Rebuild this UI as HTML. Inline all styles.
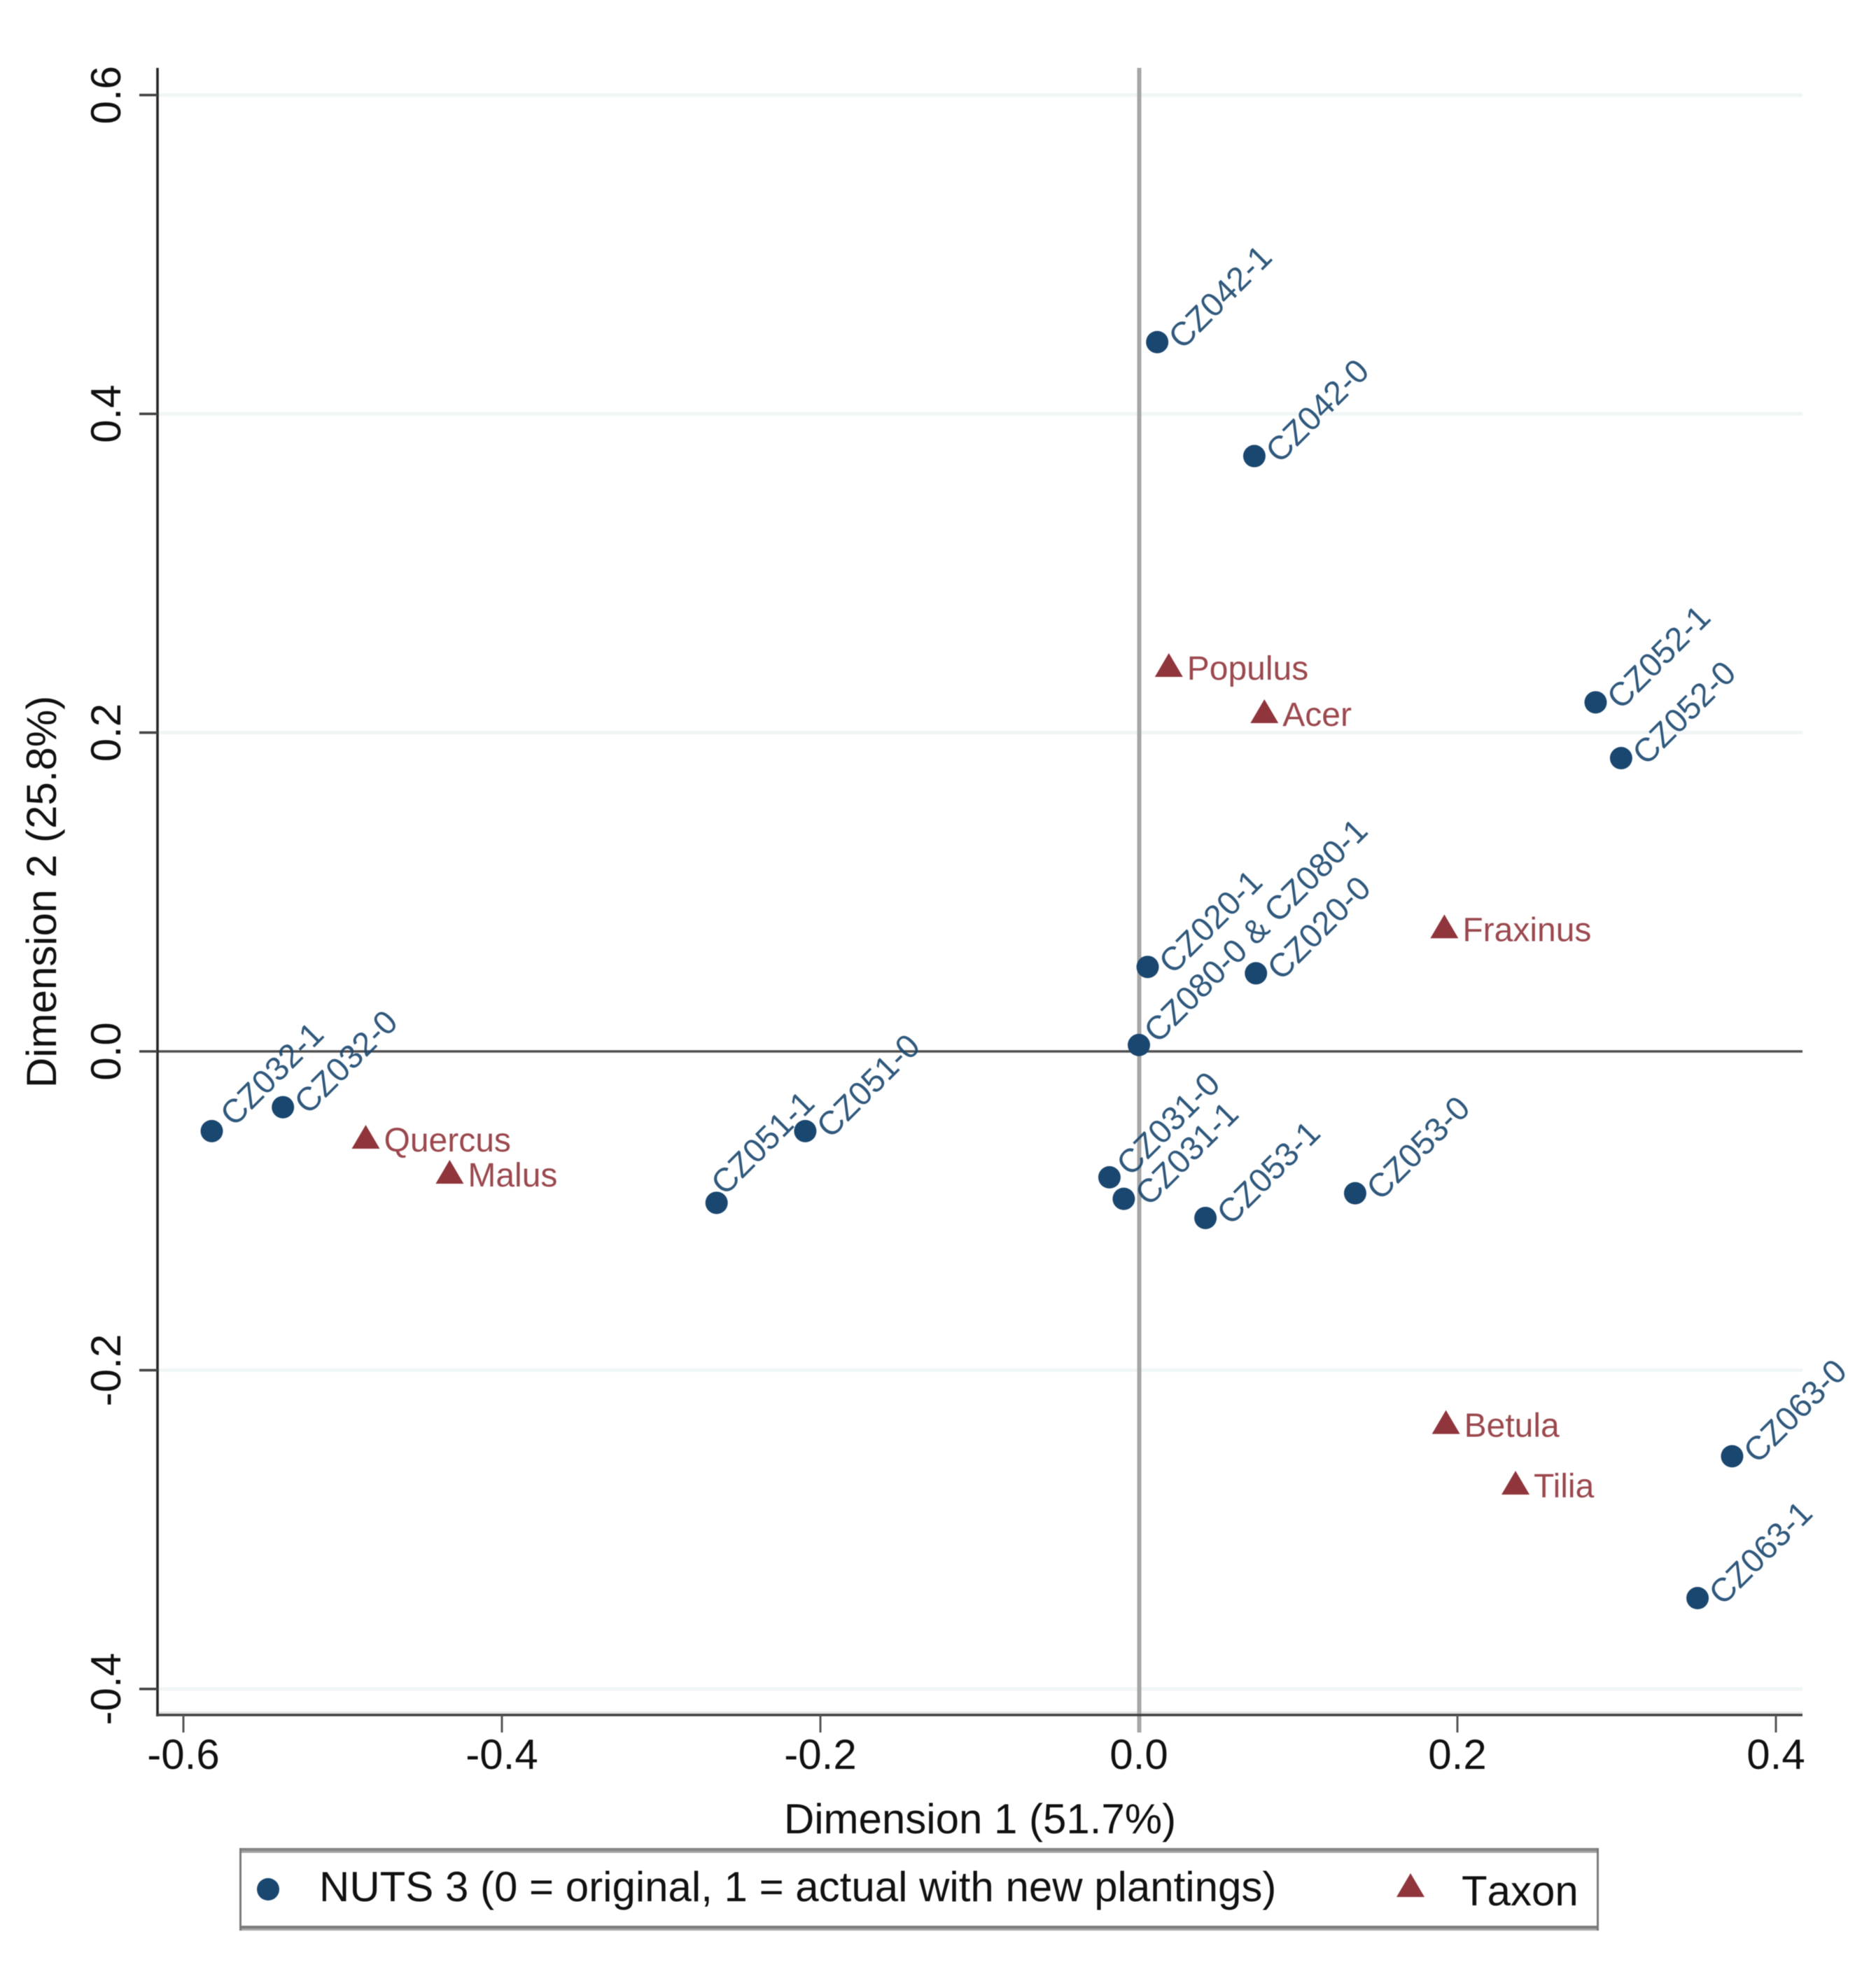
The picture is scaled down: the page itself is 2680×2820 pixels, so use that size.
<!DOCTYPE html>
<html lang="en">
<head>
<meta charset="utf-8">
<title>Correspondence analysis biplot</title>
<style>
html,body{margin:0;padding:0;background:#fff;}
svg{display:block;font-family:"Liberation Sans",Arial,sans-serif;filter:blur(0.6px);}
</style>
</head>
<body>
<svg id="chart" xmlns="http://www.w3.org/2000/svg" width="2680" height="2820" viewBox="0 0 2680 2820"></svg>
<script>
const xTicks = [-0.6, -0.4, -0.2, 0.0, 0.2, 0.4];
const yTicks = [0.6, 0.4, 0.2, 0.0, -0.2, -0.4];
const xTickLabels = ['-0.6', '-0.4', '-0.2', '0.0', '0.2', '0.4'];
const yTickLabels = ['0.6', '0.4', '0.2', '0.0', '-0.2', '-0.4'];

const regionNames = ['CZ042-1','CZ042-0','CZ052-1','CZ052-0','CZ020-1','CZ020-0','CZ080-0 & CZ080-1','CZ032-1','CZ032-0','CZ051-1','CZ051-0','CZ031-0','CZ031-1','CZ053-1','CZ053-0','CZ063-0','CZ063-1'];
const regionDim1 = [0.0115, 0.0725, 0.2868, 0.3028, 0.0055, 0.0735, 0.0, -0.5822, -0.5375, -0.2652, -0.2095, -0.0185, -0.0095, 0.0418, 0.1358, 0.3725, 0.3508];
const regionDim2 = [0.445, 0.3735, 0.219, 0.184, 0.053, 0.049, 0.004, -0.050, -0.035, -0.095, -0.050, -0.079, -0.0925, -0.1045, -0.089, -0.254, -0.343];

const taxonNames = ['Populus','Acer','Fraxinus','Quercus','Malus','Betula','Tilia'];
const taxonDim1 = [0.0188, 0.0788, 0.1918, -0.4855, -0.4328, 0.1928, 0.2365];
const taxonDim2 = [0.242, 0.213, 0.078, -0.054, -0.076, -0.233, -0.271];

const NAVY = '#1a476f';
const MAROON = '#90353b';
const svg = document.getElementById('chart');
const NS = 'http://www.w3.org/2000/svg';

function scaleX(v) { return 1627 + v * 2275; }
function scaleY(v) { return 1502 - v * 2277; }

function make(tag, attrs, text) {
  const el = document.createElementNS(NS, tag);
  for (const k in attrs) el.setAttribute(k, attrs[k]);
  if (text !== undefined) el.textContent = text;
  svg.appendChild(el);
  return el;
}
function trianglePoints(cx, cy) {
  return (cx - 20) + ',' + (cy + 16) + ' ' + (cx + 20) + ',' + (cy + 16) + ' ' + cx + ',' + (cy - 18);
}
/* most region labels sit right of the marker; a few were nudged upward in the source chart */
function regionLabelDx(name) {
  if (name === 'CZ051-1') return 12;
  if (name === 'CZ031-0') return 30;
  if (name === 'CZ032-1') return 32;
  if (name === 'CZ080-0 & CZ080-1') return 27;
  return 36;
}
function regionLabelDy(name) {
  if (name === 'CZ051-1') return -9;
  if (name === 'CZ031-0') return 0;
  if (name === 'CZ032-1') return -5;
  if (name === 'CZ080-0 & CZ080-1') return -1;
  return 12;
}

let el;

/* gridlines */
yTicks.forEach(function (t) {
  if (t === 0) return;
  el = make('rect', { x: 225, y: scaleY(t) - 2.5, width: 2350, height: 5, fill: '#f0f5f5' });
  
  
});

/* plot bottom shadow band */
el = make('rect', { x: 225, y: 2445, width: 2350, height: 4, fill: '#e4e4e4' });



/* reference lines */
el = make('line', { x1: scaleX(0) + 0.5, x2: scaleX(0) + 0.5, y1: 97, y2: 2475, stroke: '#a6a6a6', 'stroke-width': 6 });



el = make('line', { x1: 225, x2: 2575, y1: scaleY(0), y2: scaleY(0), stroke: '#505050', 'stroke-width': 3.4 });



/* axes */
el = make('line', { x1: 225, x2: 225, y1: 97, y2: 2452, stroke: '#262626', 'stroke-width': 3.6 });



el = make('line', { x1: 223, x2: 2575, y1: 2450, y2: 2450, stroke: '#404040', 'stroke-width': 3.6 });



/* x ticks */
xTicks.forEach(function (t, i) {
  if (t !== 0) {
    el = make('line', { x1: scaleX(t), x2: scaleX(t), y1: 2450, y2: 2475, stroke: '#555', 'stroke-width': 3 });
    
    
  }
  el = make('text', { x: scaleX(t), y: 2527, 'text-anchor': 'middle', 'font-size': 60, fill: '#111' }, xTickLabels[i]);
  
  
});

/* y ticks */
yTicks.forEach(function (t, i) {
  el = make('line', { x1: 199, x2: 225, y1: scaleY(t), y2: scaleY(t), stroke: '#444', 'stroke-width': 3.6 });
  
  
  el = make('text', { transform: 'translate(172,' + scaleY(t) + ') rotate(-90)', 'text-anchor': 'middle', 'font-size': 60, fill: '#111' }, yTickLabels[i]);
  
  
});

/* axis titles */
el = make('text', { x: 1400, y: 2619, 'text-anchor': 'middle', 'font-size': 60, fill: '#111' }, 'Dimension 1 (51.7%)');



el = make('text', { transform: 'translate(80,1274) rotate(-90)', 'text-anchor': 'middle', 'font-size': 60, fill: '#111' }, 'Dimension 2 (25.8%)');



/* region points */
regionNames.forEach(function (name, i) {
  const cx = scaleX(regionDim1[i]);
  const cy = scaleY(regionDim2[i]);
  el = make('circle', { cx: cx, cy: cy, r: 16, fill: NAVY });
  
  
  el = make('text', { transform: 'translate(' + (cx + regionLabelDx(name)) + ',' + (cy + regionLabelDy(name)) + ') rotate(-45)', 'font-size': 47.5, fill: NAVY, 'fill-opacity': 0.9 }, name);
  
  
});

/* taxon points */
taxonNames.forEach(function (name, i) {
  const cx = scaleX(taxonDim1[i]);
  const cy = scaleY(taxonDim2[i]);
  el = make('polygon', { points: trianglePoints(cx, cy), fill: MAROON });
  
  
  el = make('text', { x: cx + 26, y: cy + 20, 'font-size': 48, fill: MAROON, 'fill-opacity': 0.9 }, name);
  
  
});

/* legend */
el = make('rect', { x: 343, y: 2640, width: 1941, height: 118, fill: '#fff' });



el = make('rect', { x: 343, y: 2640, width: 1941, height: 4, fill: '#858585' });



el = make('rect', { x: 343, y: 2644, width: 1941, height: 3, fill: '#a4a4a4' });



el = make('rect', { x: 343, y: 2751, width: 1941, height: 4, fill: '#7c7c7c' });



el = make('rect', { x: 343, y: 2755, width: 1941, height: 3, fill: '#a8a8a8' });



el = make('rect', { x: 342, y: 2640, width: 3, height: 118, fill: '#7a7a7a' });



el = make('rect', { x: 2281, y: 2640, width: 3, height: 118, fill: '#7a7a7a' });



el = make('circle', { cx: 383, cy: 2699, r: 16, fill: NAVY });



el = make('text', { x: 456, y: 2716, 'font-size': 60, fill: '#111' }, 'NUTS 3 (0 = original, 1 = actual with new plantings)');



el = make('polygon', { points: trianglePoints(2015, 2694), fill: MAROON });



el = make('text', { x: 2088, y: 2722, 'font-size': 60, fill: '#111', style: 'font-kerning:none' }, 'Taxon');


</script>
</body>
</html>
